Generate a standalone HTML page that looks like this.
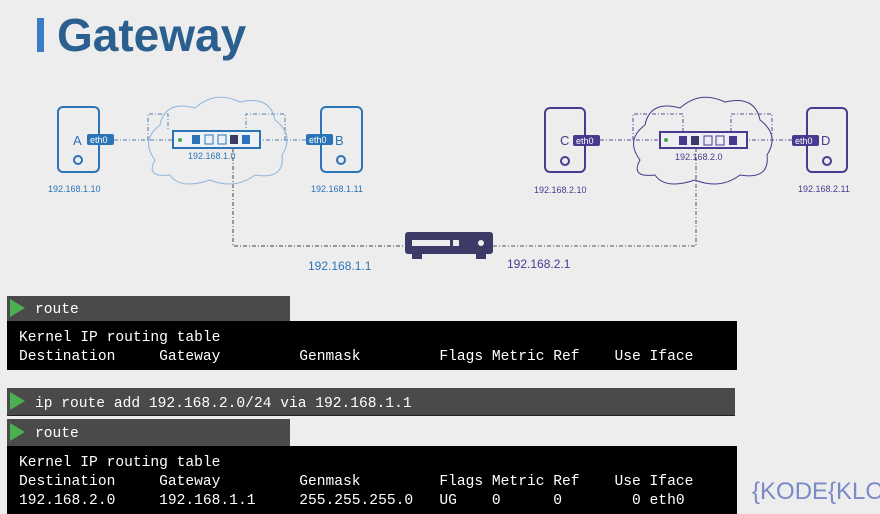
<!DOCTYPE html>
<html><head><style>
body{margin:0;width:880px;height:514px;overflow:hidden;background:#ededed;font-family:"Liberation Sans",sans-serif;position:relative}
.a{position:absolute}
.t{position:absolute;font-family:"Liberation Mono",monospace;font-size:14.6px;color:#fff;white-space:pre;line-height:19px}
.hdr{position:absolute;background:#4a4a4a;border-bottom:1px solid #222}
.tri{position:absolute;width:0;height:0;border-left:15px solid #4caf50;border-top:9px solid transparent;border-bottom:9px solid transparent}
.blk{position:absolute;background:#000}
</style></head><body>
<div class="a" style="left:37px;top:18px;width:7px;height:34px;background:#3b7dc4"></div>
<div class="a" style="left:57px;top:8px;font-size:46px;font-weight:bold;color:#2a5f8f">Gateway</div>
<svg class="a" style="left:0;top:0" width="880" height="290">
<g fill="none" stroke-dasharray="4,2,1,2" stroke-width="1">
<path d="M114 140 H172 M306 140 H260 M148 140 V114 H168 V131 M285 140 V114 H246 V131" stroke="#4a7fb5"/>
<path d="M233 148 V246 H405" stroke="#444"/>
<path d="M600 140 H659 M792 140 H747 M633 140 V114 H683 V132 M772 140 V114 H731 V132" stroke="#5a4a9a"/>
<path d="M696 148 V246 H493" stroke="#555"/>
</g>
<path d="M155 160 Q140 140 160 125 Q165 100 195 108 Q215 90 240 102 Q270 95 275 120 Q295 135 282 155 Q285 180 255 175 Q235 190 210 180 Q180 190 170 175 Q145 178 155 160Z" fill="none" stroke="#8fb6dc" stroke-width="1"/>
<path d="M640 160 Q625 140 645 125 Q650 100 680 108 Q700 90 725 102 Q755 95 760 120 Q780 135 767 155 Q770 180 740 175 Q720 190 695 180 Q665 190 655 175 Q630 178 640 160Z" fill="none" stroke="#4a3a8f" stroke-width="1"/>
<g fill="none" stroke="#2b74b8" stroke-width="2">
<rect x="58" y="107" width="41" height="65" rx="5"/><circle cx="78" cy="160" r="4"/>
<rect x="321" y="107" width="41" height="65" rx="5"/><circle cx="341" cy="160" r="4"/>
<rect x="173" y="131" width="87" height="17" fill="#eef2f7"/>
</g>
<rect x="87" y="134" width="27" height="11" rx="2" fill="#2b74b8"/>
<rect x="306" y="134" width="27" height="11" rx="2" fill="#2b74b8"/>
<circle cx="180" cy="140" r="2" fill="#4a4"/>
<rect x="192" y="135" width="8" height="9" fill="#2b74b8"/><rect x="205" y="135" width="8" height="9" fill="none" stroke="#2b74b8"/><rect x="218" y="135" width="8" height="9" fill="none" stroke="#2b74b8"/><rect x="230" y="135" width="8" height="9" fill="#3c3a66"/><rect x="242" y="135" width="8" height="9" fill="#2b74b8"/>
<g fill="none" stroke="#4a3a8f" stroke-width="2">
<rect x="545" y="108" width="40" height="64" rx="5"/><circle cx="565" cy="161" r="4"/>
<rect x="807" y="108" width="40" height="64" rx="5"/><circle cx="827" cy="161" r="4"/>
<rect x="660" y="132" width="87" height="16" fill="#eeedf4"/>
</g>
<rect x="573" y="135" width="27" height="11" rx="2" fill="#4a3a8f"/>
<rect x="792" y="135" width="27" height="11" rx="2" fill="#4a3a8f"/>
<circle cx="666" cy="140" r="2" fill="#4a4"/>
<rect x="679" y="136" width="8" height="9" fill="#4a3a8f"/><rect x="691" y="136" width="8" height="9" fill="#3c3a66"/><rect x="704" y="136" width="8" height="9" fill="none" stroke="#4a3a8f"/><rect x="716" y="136" width="8" height="9" fill="none" stroke="#4a3a8f"/><rect x="729" y="136" width="8" height="9" fill="#4a3a8f"/>
<rect x="405" y="232" width="88" height="22" rx="3" fill="#3c3a66"/>
<rect x="412" y="254" width="10" height="5" fill="#3c3a66"/><rect x="476" y="254" width="10" height="5" fill="#3c3a66"/>
<rect x="412" y="240" width="38" height="6" fill="#ededed"/><rect x="453" y="240" width="6" height="6" fill="#ededed"/><circle cx="481" cy="243" r="3" fill="#ededed"/>
<g font-size="9" fill="#fff"><text x="90" y="143">eth0</text><text x="309" y="143">eth0</text><text x="576" y="144">eth0</text><text x="795" y="144">eth0</text></g>
<g font-size="13" fill="#2b74b8"><text x="73" y="145">A</text><text x="335" y="145">B</text></g>
<g font-size="13" fill="#4a3a8f"><text x="560" y="145">C</text><text x="821" y="145">D</text></g>
<g font-size="9" fill="#2b74b8"><text x="188" y="159">192.168.1.0</text><text x="48" y="192">192.168.1.10</text><text x="311" y="192">192.168.1.11</text></g>
<g font-size="9" fill="#4a3a8f"><text x="675" y="160">192.168.2.0</text><text x="534" y="193">192.168.2.10</text><text x="798" y="192">192.168.2.11</text></g>
<text x="308" y="270" font-size="12" fill="#2b74b8">192.168.1.1</text>
<text x="507" y="268" font-size="12" fill="#4a3a8f">192.168.2.1</text>
</svg>
<div class="hdr" style="left:7px;top:296px;width:283px;height:25px"></div>
<div class="tri" style="left:10px;top:299px"></div>
<div class="t" style="left:35px;top:301px">route</div>
<div class="blk" style="left:7px;top:321px;width:730px;height:49px"></div>
<div class="t" style="left:19px;top:329px">Kernel IP routing table
Destination     Gateway         Genmask         Flags Metric Ref    Use Iface</div>
<div class="hdr" style="left:7px;top:388px;width:728px;height:27px"></div>
<div class="tri" style="left:10px;top:392px"></div>
<div class="t" style="left:35px;top:395px">ip route add 192.168.2.0/24 via 192.168.1.1</div>
<div class="hdr" style="left:7px;top:419px;width:283px;height:27px"></div>
<div class="tri" style="left:10px;top:423px"></div>
<div class="t" style="left:35px;top:425px">route</div>
<div class="blk" style="left:7px;top:446px;width:730px;height:68px"></div>
<div class="t" style="left:19px;top:454px">Kernel IP routing table
Destination     Gateway         Genmask         Flags Metric Ref    Use Iface
192.168.2.0     192.168.1.1     255.255.255.0   UG    0      0        0 eth0</div>
<div class="a" style="left:752px;top:478px;width:128px;height:34px;overflow:hidden;white-space:nowrap;font-size:24px;color:#7a8ac8">{KODE{KLOUD</div>
</body></html>
